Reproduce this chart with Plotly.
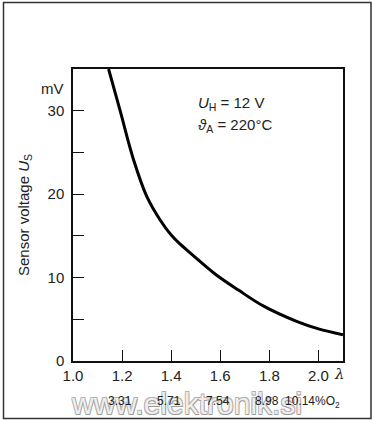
import plotly.graph_objects as go

# Data
lam = [1.145, 1.192, 1.247, 1.301, 1.355, 1.40, 1.437, 1.491, 1.58, 1.674, 1.775, 1.911, 2.0, 2.1]
u_s = [35.0, 30.0, 24.1, 19.7, 16.9, 15.1, 14.0, 12.6, 10.4, 8.5, 6.6, 4.75, 3.85, 3.15]

x_ticks = [1.0, 1.2, 1.4, 1.6, 1.8, 2.0]
x_ticktext = ["1.0", "1.2", "1.4", "1.6", "1.8", "2.0"]
y_ticks = [0, 5, 10, 15, 20, 25, 30]
y_ticktext = ["0", "", "10", "", "20", "", "30"]
o2_pos = [1.2, 1.4, 1.6, 1.8]
o2_text = ["3.31", "5.71", "7.54", "8.98"]

FONT = "Liberation Sans, Arial, sans-serif"
W, H = 374, 421
ml, mr, mt, mb = 73, 31, 69, 60
pw = W - ml - mr
ph = H - mt - mb

def px(xp):
    return (xp - ml) / pw

def py(yp):
    return (H - mb - yp) / ph

fig = go.Figure()
fig.add_trace(go.Scatter(
    x=lam, y=u_s, mode="lines",
    line=dict(color="black", width=3, shape="spline", smoothing=1.0),
    hoverinfo="skip", showlegend=False,
))

wm_shadow = ("0.8px 0.8px 0 #9c9c9c, -0.8px -0.8px 0 #b4b4b4, "
             "0.8px -0.8px 0 #aaaaaa, -0.8px 0.8px 0 #aaaaaa")

annotations = [
    dict(text="www.elektronik.si", xref="paper", yref="paper", x=px(186), y=py(403),
         xanchor="center", yanchor="middle", showarrow=False,
         font=dict(family=FONT, size=30, color="#eeeeee", shadow=wm_shadow)),
    dict(text="mV", xref="paper", yref="paper", x=px(66), y=py(88),
         xanchor="right", yanchor="middle", showarrow=False,
         font=dict(family=FONT, size=15, color="#222")),
    dict(text="<i>U</i><sub>H</sub> = 12 V", xref="paper", yref="paper",
         x=px(196), y=py(103), xanchor="left", yanchor="middle", showarrow=False,
         font=dict(family=FONT, size=15, color="#222")),
    dict(text="<i>ϑ</i><sub>A</sub> = 220°C", xref="paper", yref="paper",
         x=px(196), y=py(125), xanchor="left", yanchor="middle", showarrow=False,
         font=dict(family=FONT, size=15, color="#222")),
    dict(text="<i>λ</i>", xref="paper", yref="paper", x=px(339), y=py(374),
         xanchor="center", yanchor="middle", showarrow=False,
         font=dict(family="DejaVu Serif, serif", size=15, color="#222")),
]
for xv, t in zip(o2_pos, o2_text):
    annotations.append(dict(text=t, x=xv, xref="x", yref="paper", y=py(401),
                            xanchor="center", yanchor="middle", xshift=-2, showarrow=False,
                            font=dict(family=FONT, size=12, color="#222")))
annotations.append(dict(text="10.14%O<sub>2</sub>", xref="paper", yref="paper",
                        x=px(283), y=py(402), xanchor="left", yanchor="middle",
                        showarrow=False, font=dict(family=FONT, size=12, color="#222")))

fig.update_layout(
    width=W, height=H,
    margin=dict(l=ml, r=mr, t=mt, b=mb, pad=0, autoexpand=False),
    paper_bgcolor="white", plot_bgcolor="white",
    font=dict(family=FONT, size=15, color="#222"),
    xaxis=dict(range=[1.0, 2.1], tickvals=x_ticks, ticktext=x_ticktext,
               ticks="inside", ticklen=11, tickwidth=1.2, tickcolor="#111",
               showline=True, linecolor="#111", linewidth=1.5, mirror=True,
               showgrid=False, zeroline=False, automargin=False,
               tickfont=dict(size=15, color="#222")),
    yaxis=dict(range=[0, 35], tickvals=y_ticks, ticktext=y_ticktext,
               ticks="inside", ticklen=11, tickwidth=1.2, tickcolor="#111",
               showline=True, linecolor="#111", linewidth=1.5, mirror=True,
               showgrid=False, zeroline=False, automargin=False,
               tickfont=dict(size=15, color="#222"), ticklabelstandoff=4,
               title=dict(text="Sensor voltage <i>U</i><sub>S</sub>", standoff=14,
                          font=dict(size=15, color="#222"))),
    annotations=annotations,
    shapes=[dict(type="rect", xref="paper", yref="paper",
                 x0=px(3.5), x1=px(371), y0=py(418.5), y1=py(2.5),
                 line=dict(color="#333", width=1.5), fillcolor="rgba(0,0,0,0)",
                 layer="above")],
)

fig.write_html(
    "out.html",
    config={"displayModeBar": False},
    post_script="document.body.style.margin='0';document.body.style.overflow='hidden';",
)
